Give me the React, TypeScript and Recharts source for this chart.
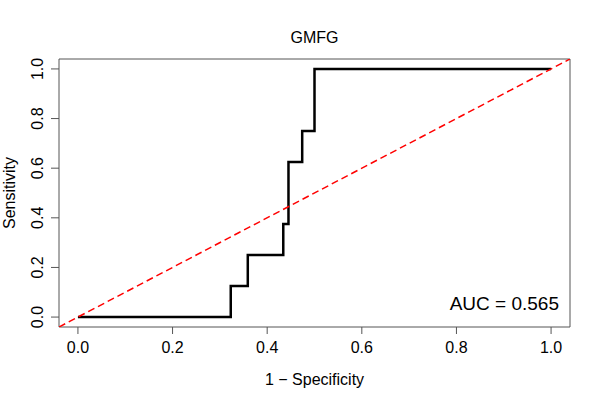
import { LineChart, Line, XAxis, YAxis, ReferenceArea, Customized } from "recharts";

// ROC curve points (1 - specificity, sensitivity)
const rocFpr = [0, 0.323, 0.359, 0.434, 0.445, 0.474, 0.5, 1.0];
const rocSens = [0, 0.125, 0.25, 0.375, 0.625, 0.75, 1.0, 1.0];

// chance diagonal, spans the full plot region
const diagFpr = [-0.04, 1.04];
const diagSens = [-0.04, 1.04];

const axisTicks = [0, 0.2, 0.4, 0.6, 0.8, 1.0];
const title = "GMFG";
const aucLabel = "AUC = 0.565";
const xLabel = "1 − Specificity";
const yLabel = "Sensitivity";

const rocData = rocFpr.map((fpr, i) => ({ fpr, sens: rocSens[i] }));
const diagData = diagFpr.map((fpr, i) => ({ fpr, sens: diagSens[i] }));

const FONT = "'Liberation Sans', Arial, Helvetica, sans-serif";
const AXIS_COLOR = "#555";
const DOMAIN: [number, number] = [-0.04, 1.04];

const W = 600;
const H = 400;
const PLOT_LEFT = 59;
const PLOT_TOP = 59;
const PLOT_RIGHT = 570;
const PLOT_BOTTOM = 327;

const XTick = ({ x, y, payload }: any) => (
  <text x={x} y={PLOT_BOTTOM + 26} textAnchor="middle" fontSize={16} fill="#000" fontFamily={FONT}>
    {payload.value.toFixed(1)}
  </text>
);

const YTick = ({ y, payload }: any) => (
  <text
    x={43}
    y={y}
    transform={`rotate(-90, 43, ${y})`}
    textAnchor="middle"
    fontSize={16}
    fill="#000"
    fontFamily={FONT}
  >
    {payload.value.toFixed(1)}
  </text>
);

const Labels = () => (
  <g fontFamily={FONT} fill="#000">
    <text x={(PLOT_LEFT + PLOT_RIGHT) / 2} y={43} textAnchor="middle" fontSize={16}>
      {title}
    </text>
    <text x={559} y={310} textAnchor="end" fontSize={19}>
      {aucLabel}
    </text>
    <text x={(PLOT_LEFT + PLOT_RIGHT) / 2} y={385} textAnchor="middle" fontSize={16}>
      {xLabel}
    </text>
    <text
      x={15}
      y={(PLOT_TOP + PLOT_BOTTOM) / 2}
      transform={`rotate(-90, 15, ${(PLOT_TOP + PLOT_BOTTOM) / 2})`}
      textAnchor="middle"
      fontSize={16}
    >
      {yLabel}
    </text>
  </g>
);

export default function App() {
  return (
    <div style={{ position: "absolute", left: 0, top: 0, width: W, height: H, background: "#fff" }}>
      <LineChart
        width={W}
        height={H}
        margin={{ top: PLOT_TOP, right: W - PLOT_RIGHT, bottom: 0, left: 0 }}
      >
        <XAxis
          type="number"
          dataKey="fpr"
          domain={DOMAIN}
          ticks={axisTicks}
          allowDataOverflow
          height={H - PLOT_BOTTOM}
          axisLine={false}
          tickSize={7}
          tickLine={{ stroke: AXIS_COLOR }}
          tick={<XTick />}
        />
        <YAxis
          type="number"
          dataKey="sens"
          domain={DOMAIN}
          ticks={axisTicks}
          allowDataOverflow
          width={PLOT_LEFT}
          axisLine={false}
          tickSize={8}
          tickLine={{ stroke: AXIS_COLOR }}
          tick={<YTick />}
        />
        <ReferenceArea
          x1={DOMAIN[0]}
          x2={DOMAIN[1]}
          y1={DOMAIN[0]}
          y2={DOMAIN[1]}
          fill="none"
          stroke={AXIS_COLOR}
          strokeWidth={1}
          ifOverflow="visible"
        />
        <Line
          data={rocData}
          dataKey="sens"
          type="stepAfter"
          stroke="#000"
          strokeWidth={2.5}
          dot={false}
          isAnimationActive={false}
        />
        <Line
          data={diagData}
          dataKey="sens"
          type="linear"
          stroke="#ff0000"
          strokeWidth={1.5}
          strokeDasharray="7 4"
          dot={false}
          isAnimationActive={false}
        />
        <Customized component={<Labels />} />
      </LineChart>
    </div>
  );
}
